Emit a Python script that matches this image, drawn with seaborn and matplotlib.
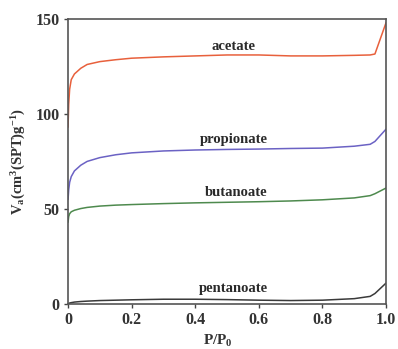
import matplotlib
matplotlib.use("Agg")
import matplotlib.pyplot as plt
import pandas as pd
import seaborn as sns

# relative pressure P/P0
p_rel = [0, 0.002, 0.005, 0.01, 0.02, 0.04, 0.06, 0.1, 0.15, 0.2, 0.3, 0.4,
         0.5, 0.6, 0.7, 0.8, 0.9, 0.95, 0.965, 1.0]

# adsorbed volume, cm3(STP)/g
acetate = [93, 105, 113, 118, 121, 124, 126, 127.5, 128.5, 129.3, 130, 130.5,
           131, 131, 130.5, 130.5, 130.8, 131, 131.5, 148]
propionate = [55, 60, 64, 67, 70, 73, 75, 77, 78.5, 79.5, 80.5, 81,
              81.3, 81.5, 81.8, 82, 83, 84, 85.5, 92]
butanoate = [43, 46, 47.5, 48.5, 49.3, 50.2, 50.8, 51.5, 52, 52.3, 52.8, 53.2,
             53.5, 53.8, 54.2, 54.8, 55.8, 57, 58, 61]
pentanoate = [0, 0.3, 0.5, 0.7, 1, 1.3, 1.5, 1.8, 2, 2.2, 2.5, 2.5,
              2.3, 2, 1.8, 2, 2.8, 4, 5.5, 11]

names = ["acetate", "propionate", "butanoate", "pentanoate"]
colors = ["#e8603c", "#6b62c4", "#4e8a4e", "#3a3a3a"]
label_pos = [(0.52, 135.5), (0.52, 86.5), (0.53, 58.5), (0.52, 8)]

frames = []
for name, vals in zip(names, [acetate, propionate, butanoate, pentanoate]):
    frames.append(pd.DataFrame({"p": p_rel, "v": vals, "sample": name}))
df = pd.concat(frames, ignore_index=True)

sns.set_style("ticks")
plt.rcParams['font.family'] = ['Liberation Serif', 'DejaVu Serif']
plt.rcParams['mathtext.fontset'] = 'custom'
plt.rcParams['mathtext.rm'] = 'Liberation Serif:bold'
plt.rcParams['mathtext.default'] = 'rm'

fig = plt.figure(figsize=(3.98, 3.49), dpi=100)
ax = fig.add_axes([0.171, 0.129, 0.799, 0.817])

sns.lineplot(data=df, x="p", y="v", hue="sample", palette=colors,
             hue_order=names, linewidth=1.1, legend=False, ax=ax,
             estimator=None, sort=True)

for name, (tx, ty) in zip(names, label_pos):
    ax.text(tx, ty, name, ha="center", va="center", fontsize=10.5,
            fontweight="bold", color="#2a2a2a")

ax.set_xlim(0, 1.0)
ax.set_ylim(0, 150)
ax.set_xticks([0, 0.2, 0.4, 0.6, 0.8, 1.0])
ax.set_xticklabels(["0", "0.2", "0.4", "0.6", "0.8", "1.0"])
ax.set_yticks([0, 50, 100, 150])
for lab in ax.get_xticklabels() + ax.get_yticklabels():
    lab.set_fontweight("bold")
    lab.set_fontsize(11.5)
    lab.set_color("#333333")
ax.tick_params(length=3, width=1, color="#444444", pad=3)
for sp in ax.spines.values():
    sp.set_visible(True)
    sp.set_color("#555555")
    sp.set_linewidth(1.2)

ax.set_xlabel("P/P$_0$", fontsize=11, fontweight="bold", color="#333333")
ax.xaxis.set_label_coords(0.47, -0.1)
ax.set_ylabel("V$_a$(cm$^3$(SPT)g$^{-1}$)", fontsize=10.5, fontweight="bold",
              color="#333333")
ax.yaxis.set_label_coords(-0.125, 0.5)

fig.savefig("out.png", dpi=100)
